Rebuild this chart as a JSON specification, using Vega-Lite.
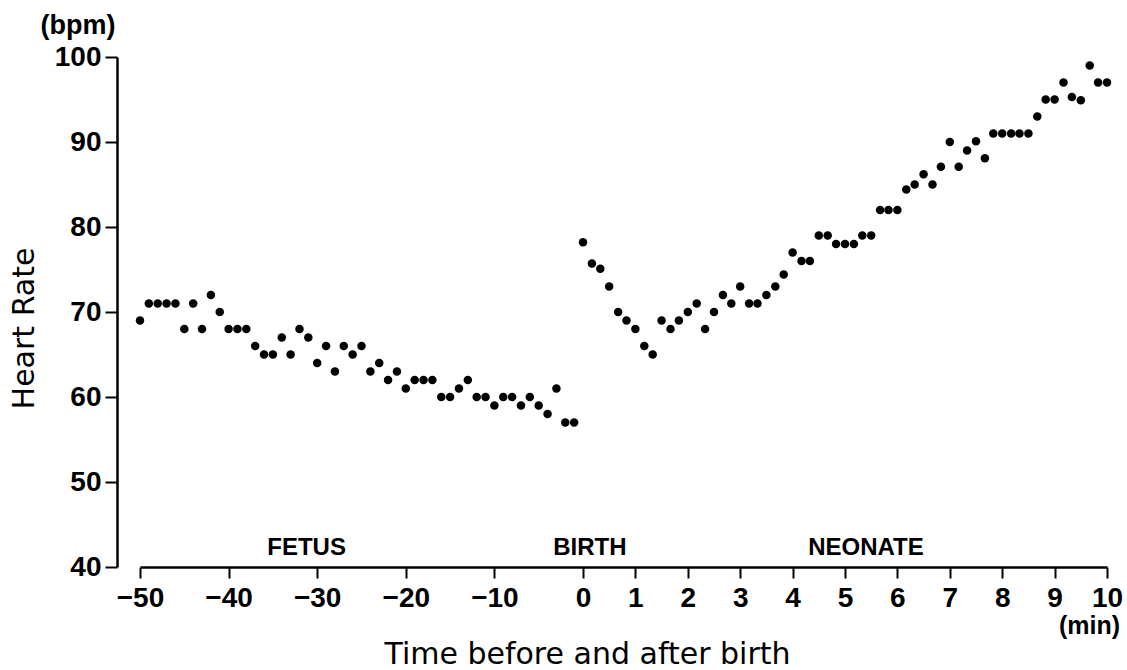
{
  "$schema": "https://vega.github.io/schema/vega-lite/v6.json",
  "width": 990,
  "height": 510,
  "autosize": {"type": "none"},
  "padding": {"left": 117, "top": 57, "right": 20, "bottom": 103},
  "background": "white",
  "config": {
    "font": "Liberation Sans",
    "view": {"stroke": null},
    "axis": {
      "grid": false,
      "domainColor": "black",
      "domainWidth": 2.5,
      "tickColor": "black",
      "tickWidth": 2,
      "labelColor": "black",
      "labelFont": "Liberation Sans",
      "labelFontWeight": "bold",
      "labelFontSize": 28,
      "titleColor": "black",
      "titleFont": "DejaVu Sans",
      "titleFontWeight": "normal",
      "titleFontSize": 30
    }
  },
  "encoding": {
    "x": {
      "field": "t",
      "type": "quantitative",
      "scale": {"domain": [-50, 0, 10], "range": [23, 466, 990], "nice": false, "zero": false},
      "axis": {
        "values": [-50, -40, -30, -20, -10, 0, 1, 2, 3, 4, 5, 6, 7, 8, 9, 10],
        "tickSize": 11,
        "labelPadding": 6,
        "labelFlush": false,
        "labelOverlap": false,
        "title": "Time before and after birth",
        "titleX": 470,
        "titlePadding": 27
      }
    },
    "y": {
      "field": "hr",
      "type": "quantitative",
      "scale": {"domain": [40, 100], "nice": false, "zero": false},
      "axis": {
        "values": [40, 50, 60, 70, 80, 90, 100],
        "tickSize": 12,
        "labelPadding": 4,
        "title": "Heart Rate",
        "titlePadding": 15,
        "titleY": 271
      }
    }
  },
  "layer": [
    {
      "data": {
        "values": [
          {"t": -50, "hr": 69}, {"t": -49, "hr": 71}, {"t": -48, "hr": 71}, {"t": -47, "hr": 71},
          {"t": -46, "hr": 71}, {"t": -45, "hr": 68}, {"t": -44, "hr": 71}, {"t": -43, "hr": 68},
          {"t": -42, "hr": 72}, {"t": -41, "hr": 70}, {"t": -40, "hr": 68}, {"t": -39, "hr": 68},
          {"t": -38, "hr": 68}, {"t": -37, "hr": 66}, {"t": -36, "hr": 65}, {"t": -35, "hr": 65},
          {"t": -34, "hr": 67}, {"t": -33, "hr": 65}, {"t": -32, "hr": 68}, {"t": -31, "hr": 67},
          {"t": -30, "hr": 64}, {"t": -29, "hr": 66}, {"t": -28, "hr": 63}, {"t": -27, "hr": 66},
          {"t": -26, "hr": 65}, {"t": -25, "hr": 66}, {"t": -24, "hr": 63}, {"t": -23, "hr": 64},
          {"t": -22, "hr": 62}, {"t": -21, "hr": 63}, {"t": -20, "hr": 61}, {"t": -19, "hr": 62},
          {"t": -18, "hr": 62}, {"t": -17, "hr": 62}, {"t": -16, "hr": 60}, {"t": -15, "hr": 60},
          {"t": -14, "hr": 61}, {"t": -13, "hr": 62}, {"t": -12, "hr": 60}, {"t": -11, "hr": 60},
          {"t": -10, "hr": 59}, {"t": -9, "hr": 60}, {"t": -8, "hr": 60}, {"t": -7, "hr": 59},
          {"t": -6, "hr": 60}, {"t": -5, "hr": 59}, {"t": -4, "hr": 58}, {"t": -3, "hr": 61},
          {"t": -2, "hr": 57}, {"t": -1, "hr": 57},
          {"t": 0, "hr": 78.2}, {"t": 0.17, "hr": 75.7}, {"t": 0.33, "hr": 75.1}, {"t": 0.5, "hr": 73},
          {"t": 0.67, "hr": 70}, {"t": 0.83, "hr": 69}, {"t": 1, "hr": 68}, {"t": 1.17, "hr": 66},
          {"t": 1.33, "hr": 65}, {"t": 1.5, "hr": 69}, {"t": 1.67, "hr": 68}, {"t": 1.83, "hr": 69},
          {"t": 2, "hr": 70}, {"t": 2.17, "hr": 71}, {"t": 2.33, "hr": 68}, {"t": 2.5, "hr": 70},
          {"t": 2.67, "hr": 72}, {"t": 2.83, "hr": 71}, {"t": 3, "hr": 73}, {"t": 3.17, "hr": 71},
          {"t": 3.33, "hr": 71}, {"t": 3.5, "hr": 72}, {"t": 3.67, "hr": 73}, {"t": 3.83, "hr": 74.4},
          {"t": 4, "hr": 77}, {"t": 4.17, "hr": 76}, {"t": 4.33, "hr": 76}, {"t": 4.5, "hr": 79},
          {"t": 4.67, "hr": 79}, {"t": 4.83, "hr": 78}, {"t": 5, "hr": 78}, {"t": 5.17, "hr": 78},
          {"t": 5.33, "hr": 79}, {"t": 5.5, "hr": 79}, {"t": 5.67, "hr": 82}, {"t": 5.83, "hr": 82},
          {"t": 6, "hr": 82}, {"t": 6.17, "hr": 84.4}, {"t": 6.33, "hr": 85}, {"t": 6.5, "hr": 86.2},
          {"t": 6.67, "hr": 85}, {"t": 6.83, "hr": 87.1}, {"t": 7, "hr": 90}, {"t": 7.17, "hr": 87.1},
          {"t": 7.33, "hr": 89}, {"t": 7.5, "hr": 90.1}, {"t": 7.67, "hr": 88.1}, {"t": 7.83, "hr": 91},
          {"t": 8, "hr": 91}, {"t": 8.17, "hr": 91}, {"t": 8.33, "hr": 91}, {"t": 8.5, "hr": 91},
          {"t": 8.67, "hr": 93}, {"t": 8.83, "hr": 95}, {"t": 9, "hr": 95}, {"t": 9.17, "hr": 97},
          {"t": 9.33, "hr": 95.3}, {"t": 9.5, "hr": 94.9}, {"t": 9.67, "hr": 99}, {"t": 9.83, "hr": 97},
          {"t": 10, "hr": 97}
        ]
      },
      "mark": {"type": "point", "filled": true, "color": "black", "opacity": 1, "size": 72, "shape": "circle"}
    },
    {
      "data": {
        "values": [
          {"label": "FETUS", "t": -31.2, "hr": 41.4},
          {"label": "BIRTH", "t": 0.13, "hr": 41.4},
          {"label": "NEONATE", "t": 5.4, "hr": 41.4}
        ]
      },
      "mark": {"type": "text", "font": "Liberation Sans", "fontWeight": "bold", "fontSize": 24, "align": "center", "baseline": "alphabetic", "color": "black"},
      "encoding": {"text": {"field": "label"}}
    },
    {
      "data": {"values": [{"label": "(bpm)", "t": -50, "hr": 100}]},
      "mark": {"type": "text", "font": "Liberation Sans", "fontWeight": "bold", "fontSize": 27, "align": "center", "baseline": "alphabetic", "dx": -62, "dy": -23, "color": "black"},
      "encoding": {"text": {"field": "label"}}
    },
    {
      "data": {"values": [{"label": "(min)", "t": 10, "hr": 40}]},
      "mark": {"type": "text", "font": "Liberation Sans", "fontWeight": "bold", "fontSize": 25, "align": "right", "baseline": "alphabetic", "dx": 13, "dy": 67, "color": "black"},
      "encoding": {"text": {"field": "label"}}
    }
  ]
}
